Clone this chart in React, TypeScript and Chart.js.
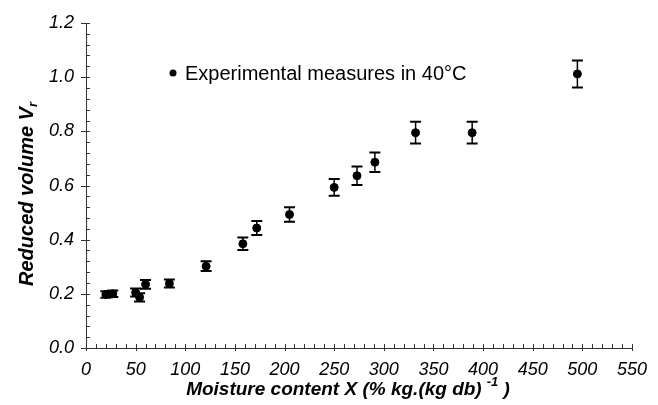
import React, { useEffect, useRef } from 'react';
import { Chart, registerables } from 'chart.js';
Chart.register(...registerables);

const moisture = [20, 27, 50, 54, 60, 84, 121, 158, 172, 205, 250, 273, 291, 332, 389, 495];
const volume = [0.198, 0.2, 0.205, 0.187, 0.235, 0.238, 0.302, 0.385, 0.443, 0.493, 0.593, 0.636, 0.686, 0.795, 0.795, 1.012];
const volumeError = [0.012, 0.012, 0.015, 0.015, 0.016, 0.015, 0.018, 0.023, 0.026, 0.027, 0.031, 0.034, 0.036, 0.04, 0.04, 0.05];
const legendLabel = 'Experimental measures in 40°C';
const xTitleMain = 'Moisture content X (% kg.(kg db)';
const xTitleSup = '-1';
const xTitleEnd = ' )';
const yTitleMain = 'Reduced volume V';
const yTitleSub = 'r';

const FONT = '"Liberation Sans", Arial, sans-serif';

const decorPlugin = {
  id: 'decor',
  afterDatasetsDraw(chart: any) {
    const ctx = chart.ctx;
    const xs = chart.scales.x;
    const ys = chart.scales.y;
    const area = chart.chartArea;
    ctx.save();
    // error bars
    ctx.strokeStyle = '#000';
    for (let i = 0; i < moisture.length; i++) {
      const px = xs.getPixelForValue(moisture[i]);
      const top = ys.getPixelForValue(volume[i] + volumeError[i]);
      const bot = ys.getPixelForValue(volume[i] - volumeError[i]);
      ctx.lineWidth = 1.5;
      ctx.beginPath();
      ctx.moveTo(px, top);
      ctx.lineTo(px, bot);
      ctx.stroke();
      ctx.lineWidth = 2;
      ctx.beginPath();
      ctx.moveTo(px - 5.5, top);
      ctx.lineTo(px + 5.5, top);
      ctx.moveTo(px - 5.5, bot);
      ctx.lineTo(px + 5.5, bot);
      ctx.stroke();
    }
    // axis ticks
    ctx.strokeStyle = '#333';
    ctx.lineWidth = 1;
    for (let v = 0; v <= 550; v += 10) {
      const px = Math.round(xs.getPixelForValue(v)) + 0.5;
      const major = v % 50 === 0;
      ctx.beginPath();
      ctx.moveTo(px, area.bottom - 4);
      ctx.lineTo(px, area.bottom + (major ? 3 : 0));
      ctx.stroke();
    }
    for (let k = 0; k <= 30; k++) {
      const v = k * 0.04;
      const py = Math.round(ys.getPixelForValue(v)) + 0.5;
      const major = k % 5 === 0;
      ctx.beginPath();
      ctx.moveTo(area.left - (major ? 5 : 0), py);
      ctx.lineTo(area.left + 4, py);
      ctx.stroke();
    }
    // legend
    ctx.fillStyle = '#000';
    ctx.beginPath();
    ctx.arc(173, 73, 3.5, 0, Math.PI * 2);
    ctx.fill();
    ctx.font = `20px ${FONT}`;
    ctx.textAlign = 'left';
    ctx.textBaseline = 'alphabetic';
    ctx.fillText(legendLabel, 185, 80);
    // x title
    const bigX = `italic bold 19px ${FONT}`;
    const smallX = `italic bold 13px ${FONT}`;
    ctx.font = bigX;
    const w1 = ctx.measureText(xTitleMain).width;
    const w3 = ctx.measureText(xTitleEnd).width;
    ctx.font = smallX;
    const w2 = ctx.measureText(xTitleSup).width + 5;
    const total = w1 + w2 + w3;
    let sx = 348 - total / 2;
    const base = 395;
    ctx.font = bigX;
    ctx.fillText(xTitleMain, sx, base);
    sx += w1 + 5;
    ctx.font = smallX;
    ctx.fillText(xTitleSup, sx, base - 9);
    sx += w2 - 5;
    ctx.font = bigX;
    ctx.fillText(xTitleEnd, sx, base);
    // y title
    const bigY = `italic bold 20px ${FONT}`;
    const smallY = `italic bold 13px ${FONT}`;
    ctx.save();
    ctx.translate(33, 194);
    ctx.rotate(-Math.PI / 2);
    ctx.font = bigY;
    const m1 = ctx.measureText(yTitleMain).width;
    ctx.font = smallY;
    const m2 = ctx.measureText(yTitleSub).width;
    const tot = m1 + m2;
    ctx.font = bigY;
    ctx.fillText(yTitleMain, -tot / 2, 0);
    ctx.font = smallY;
    ctx.fillText(yTitleSub, -tot / 2 + m1, 4);
    ctx.restore();
    ctx.restore();
  },
};

export default function App() {
  const ref = useRef<HTMLCanvasElement>(null);
  useEffect(() => {
    document.body.style.margin = '0';
    const chart = new Chart(ref.current as HTMLCanvasElement, {
      type: 'scatter',
      data: {
        datasets: [
          {
            label: legendLabel,
            data: moisture.map((x, i) => ({ x, y: volume[i] })),
            backgroundColor: '#000',
            borderColor: '#000',
            pointRadius: 4,
            pointStyle: 'circle',
          },
        ],
      },
      options: {
        responsive: false,
        animation: false,
        layout: { padding: { top: 23, right: 26, left: 0, bottom: 0 } },
        plugins: { legend: { display: false }, tooltip: { enabled: false } },
        scales: {
          x: {
            type: 'linear',
            min: 0,
            max: 550,
            afterFit: (s: any) => { s.height = 57; },
            grid: { display: false },
            border: { display: true, color: '#333', width: 1 },
            ticks: {
              stepSize: 50,
              color: '#000',
              padding: 3,
              maxRotation: 0,
              font: { family: FONT, size: 18, style: 'italic' },
            },
          },
          y: {
            type: 'linear',
            min: 0,
            max: 1.2,
            afterFit: (s: any) => { s.width = 86; },
            grid: { display: false },
            border: { display: true, color: '#333', width: 1 },
            ticks: {
              stepSize: 0.2,
              color: '#000',
              padding: 4,
              callback: (v: any) => Number(v).toFixed(1),
              font: { family: FONT, size: 18, style: 'italic' },
            },
          },
        },
      },
      plugins: [decorPlugin],
    });
    return () => chart.destroy();
  }, []);
  return (
    <div style={{ position: 'absolute', left: 0, top: 0, width: 658, height: 405, background: '#fff' }}>
      <canvas ref={ref} width={658} height={405} />
    </div>
  );
}
